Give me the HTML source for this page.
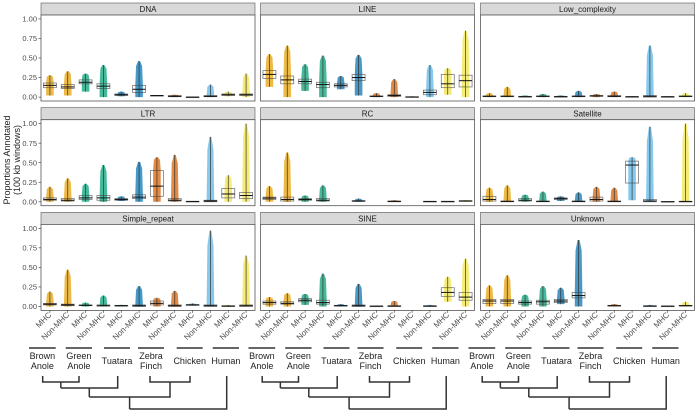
<!DOCTYPE html>
<html><head><meta charset="utf-8"><style>
body{margin:0;background:#fff;}
svg{display:block;font-family:"Liberation Sans",sans-serif;}
</style></head><body>
<svg id="chart" width="697" height="412" viewBox="0 0 697 412" xmlns="http://www.w3.org/2000/svg">
<g>
<text transform="translate(10,160) rotate(-90)" text-anchor="middle" font-size="9" fill="#222">Proportions Annotated</text>
<text transform="translate(20,160) rotate(-90)" text-anchor="middle" font-size="9" fill="#222">(100 kb windows)</text>
</g>
</svg>
<script>
const facetNames = ["DNA","LINE","Low_complexity","LTR","RC","Satellite","Simple_repeat","SINE","Unknown"];
const speciesNames = [["Brown","Anole"],["Green","Anole"],["Tuatara"],["Zebra","Finch"],["Chicken"],["Human"]];
const groupLabels = ["MHC","Non-MHC","MHC","Non-MHC","MHC","Non-MHC","MHC","Non-MHC","MHC","Non-MHC","MHC","Non-MHC"];
const yTickValues = [0,0.25,0.5,0.75,1];
const yTickLabels = ["0.00","0.25","0.50","0.75","1.00"];
// each entry: [min, q1, median, q3, max]
const dnaStats = [[.02,.12,.15,.18,.28],[.02,.11,.13,.16,.33],[.07,.17,.19,.22,.30],[0,.11,.14,.17,.41],[.01,.02,.03,.04,.07],[0,.06,.10,.15,.46],[.02,.02,.02,.02,.02],[0,.005,.01,.02,.03],[0,0,0,0,.005],[0,.005,.01,.02,.16],[.01,.02,.03,.04,.07],[0,.02,.03,.04,.30]];
const lineStats = [[.13,.24,.29,.34,.55],[0,.17,.22,.27,.66],[.08,.17,.20,.23,.42],[0,.12,.16,.19,.53],[.10,.13,.15,.17,.27],[.02,.21,.25,.29,.54],[0,.005,.01,.015,.05],[0,.01,.02,.03,.23],[0,0,0,.005,.01],[0,.03,.06,.09,.41],[.03,.12,.17,.29,.37],[0,.13,.21,.28,.85]];
const lowStats = [[0,.005,.01,.015,.05],[0,.005,.01,.015,.13],[0,0,.005,.01,.02],[0,.005,.01,.015,.04],[0,0,.005,.01,.02],[0,.005,.01,.015,.08],[0,.01,.015,.02,.04],[0,.005,.01,.02,.07],[0,0,.005,.005,.01],[0,0,.01,.02,.66],[0,0,.005,.005,.01],[0,.005,.01,.015,.05]];
const ltrStats = [[0,.02,.03,.05,.19],[0,.01,.02,.04,.30],[0,.03,.05,.08,.23],[0,.02,.05,.08,.47],[.01,.02,.03,.04,.07],[0,.04,.06,.09,.51],[0,.07,.20,.40,.57],[0,.01,.02,.04,.60],[0,0,.005,.005,.01],[0,0,.01,.02,.83],[0,.05,.10,.17,.34],[0,.04,.08,.12,1.0]];
const rcStats = [[0,.03,.047,.06,.20],[0,.01,.03,.06,.63],[0,.02,.03,.04,.08],[0,.01,.02,.04,.21],null,[0,.005,.01,.015,.04],null,[0,0,.005,.01,.02],null,[0,0,.005,.005,.01],[0,0,.005,.005,.01],[0,.005,.01,.015,.02]];
const satStats = [[0,.01,.03,.07,.18],[0,0,.005,.01,.21],[0,.01,.02,.04,.09],[0,0,.005,.01,.13],[.01,.03,.04,.05,.07],[0,0,.005,.01,.12],[0,.01,.03,.06,.19],[0,0,.005,.01,.18],[.02,.24,.47,.52,.57],[0,0,.01,.03,.96],[0,0,0,.005,.005],[0,0,.005,.005,1.0]];
const simpleStats = [[0,.02,.03,.04,.19],[0,.01,.02,.03,.47],[0,.01,.015,.02,.05],[0,.005,.01,.02,.14],[0,.005,.01,.015,.02],[0,0,.01,.02,.26],[0,.02,.04,.07,.11],[0,0,.01,.02,.20],[.01,.015,.02,.025,.04],[0,0,.01,.02,.97],[0,0,.005,.01,.02],[0,0,.01,.02,.65]];
const sineStats = [[0,.03,.05,.07,.12],[0,.03,.04,.06,.17],[.02,.06,.08,.10,.16],[0,.03,.05,.08,.42],[0,.005,.01,.015,.03],[0,0,.01,.02,.29],[0,0,.005,.005,.01],[0,0,.005,.01,.07],null,[0,0,.005,.01,.02],[.06,.13,.18,.24,.38],[0,.08,.12,.18,.61]];
const unkStats = [[0,.04,.07,.09,.27],[0,.04,.07,.09,.40],[0,.03,.05,.07,.15],[0,.03,.06,.08,.26],[.03,.05,.07,.09,.24],[0,.11,.14,.18,.85],null,[0,.005,.01,.015,.03],null,[0,0,.005,.01,.02],[0,0,.005,.005,.01],[0,.005,.01,.015,.06]];
const facetStats = [dnaStats,lineStats,lowStats,ltrStats,rcStats,satStats,simpleStats,sineStats,unkStats];
const colors = ["#E69F00","#E69F00","#009E73","#009E73","#0072B2","#0072B2","#D55E00","#D55E00","#56B4E9","#56B4E9","#F0E442","#F0E442"];

const NS="http://www.w3.org/2000/svg";
const svg=document.getElementById('chart');
function mk(tag,attrs,parent){const e=document.createElementNS(NS,tag);for(const k in attrs)e.setAttribute(k,attrs[k]);(parent||svg).appendChild(e);return e;}
const colX=[41,260.5,480.5], panelW=214;
const rowTop=[3,107.7,212.4];
function yScale(row,v){const top=rowTop[row]+12;const h=86;return top+h*(1.05-v)/1.1;}
function xScale(col,i){return colX[col]+(i+0.5)*panelW/12;}

facetStats.forEach((stats,f)=>{
  const col=f%3,row=Math.floor(f/3);
  const g=mk('g',{});
  
  
  const strip=mk('rect',{x:colX[col],y:rowTop[row],width:panelW,height:12,fill:'#d9d9d9',stroke:'#555','stroke-width':0.6},g);
  
  
  const st=mk('text',{x:colX[col]+panelW/2,y:rowTop[row]+9,'text-anchor':'middle','font-size':8,fill:'#1a1a1a'},g);
  st.textContent=facetNames[f];
  
  
  const pr=mk('rect',{x:colX[col],y:rowTop[row]+12,width:panelW,height:86,fill:'#fff',stroke:'#555','stroke-width':0.8},g);
  
  
  if(col===0){
    yTickValues.forEach((v,k)=>{
      const y=yScale(row,v);
      mk('line',{x1:colX[0]-2.5,x2:colX[0],y1:y,y2:y,stroke:'#333','stroke-width':0.6},g);
      const t=mk('text',{x:colX[0]-4,y:y+2.6,'text-anchor':'end','font-size':7.5,fill:'#4d4d4d'},g);
      t.textContent=yTickLabels[k];
      
      
    });
  }
  stats.forEach((s,i)=>{
    const cx=xScale(col,i);
    if(row===2){mk('line',{x1:cx,x2:cx,y1:rowTop[2]+98,y2:rowTop[2]+100.5,stroke:'#333','stroke-width':0.6},g);}
    if(!s)return;
    const [lo,q1,md,q3,hi]=s;
    const yl=yScale(row,lo),y1=yScale(row,q1),ym=yScale(row,md),y3=yScale(row,q3),yh=yScale(row,hi);
    const w=3.8, dTop=yScale(row,q3+(hi-q3)*0.8);
    const pts=mk('polygon',{points:`${cx-w},${yl} ${cx+w},${yl} ${cx+w},${y3} ${cx+w*0.8},${dTop} ${cx+1},${yh} ${cx-1},${yh} ${cx-w*0.8},${dTop} ${cx-w},${y3}`,fill:colors[i],'fill-opacity':0.72},g);
    
    
    const wh=mk('line',{x1:cx,x2:cx,y1:yl,y2:yh,stroke:'#333','stroke-width':0.7},g);
    
    
    const bx=mk('rect',{x:cx-6.5,y:y3,width:13,height:Math.max(y1-y3,0.6),fill:'none',stroke:'#444','stroke-width':0.7,'stroke-opacity':0.8},g);
    
    
    const ml=mk('line',{x1:cx-6.5,x2:cx+6.5,y1:ym,y2:ym,stroke:'#111','stroke-width':1},g);
    
    
  });
});

const lineRanges=[[-12,14.7],[24.7,51],[63,89],[97,123],[135.7,161.7],[171.7,198]];
const tipX=[1.7,38,76.7,109,149,185.7];
colX.forEach((ox,col)=>{
  groupLabels.forEach((lab,i)=>{
    const cx=xScale(col,i);
    const t=mk('text',{transform:`translate(${cx+2},${rowTop[2]+103}) rotate(-45)`,'text-anchor':'end','font-size':8,fill:'#4d4d4d'});
    t.textContent=lab;
    
    
  });
  speciesNames.forEach((nm,k)=>{
    const [a,b]=lineRanges[k];
    const ul=mk('line',{x1:ox+a,x2:ox+b,y1:348,y2:348,stroke:'#333','stroke-width':1.5});
    
    
    const cxm=ox+(a+b)/2;
    nm.forEach((ln,j)=>{
      const t=mk('text',{x:cxm,y:(nm.length===2?359+j*10:364),'text-anchor':'middle','font-size':9,fill:'#222'});
      t.textContent=ln;
      
      
    });
  });
  const tree=mk('path',{fill:'none',stroke:'#333','stroke-width':1.5,d:
    `M${ox+tipX[0]},376V382H${ox+tipX[1]}V376 M${ox+19.85},382V388 M${ox+tipX[2]},376V388H${ox+19.85} M${ox+48.3},388V397 `+
    `M${ox+tipX[3]},376V382H${ox+tipX[4]}V376 M${ox+129},382V397H${ox+48.3} M${ox+88.6},397V409 M${ox+tipX[5]},376V409H${ox+88.6}`});
  
  
});
</script>
</body></html>
